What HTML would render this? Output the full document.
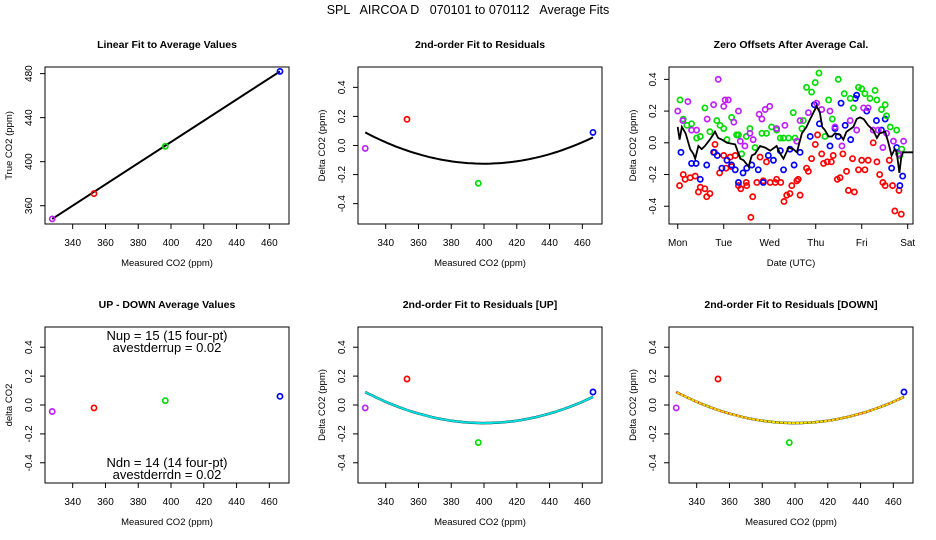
<!DOCTYPE html>
<html><head><meta charset="utf-8">
<style>
html,body{margin:0;padding:0;background:#fff;}
svg{display:block;font-family:"Liberation Sans",Arial,sans-serif;}
</style></head>
<body>
<svg id="chart" width="936" height="540" viewBox="0 0 936 540" xmlns="http://www.w3.org/2000/svg">
<rect width="936" height="540" fill="#fff"/>
<text x="468" y="14" text-anchor="middle" font-size="12.5" style="white-space:pre" xml:space="preserve">SPL   AIRCOA D   070101 to 070112   Average Fits</text>
</svg>
<script>
// ---- data ----
const gasColors = ["#c020ff","#ff0000","#00dd00","#0000ff"];
const measuredCO2 = [327.5, 353, 396.5, 466.5];
const trueCO2 = [348, 371, 414, 482];
const linFitStart = [327.5, 348];
const linFitEnd = [466.5, 482];
const residuals = [-0.02, 0.18, -0.26, 0.09];
const quadCoef = [4.09e-5, 400, -0.125]; // a, vertex x, vertex y
const upDownDiff = [-0.045, -0.02, 0.03, 0.06];
const co2Ticks = [340, 360, 380, 400, 420, 440, 460];
const trueTicks = [360, 400, 440, 480];
const resTicks = [-0.4, -0.2, 0.0, 0.2, 0.4];
const dayTicks = [0, 1, 2, 3, 4, 5];
const dayLabels = ["Mon","Tue","Wed","Thu","Fri","Sat"];

const zGreenDay = [.05,.12,.2,.3,.41,.49,.59,.7,.85,.92,1.0,1.07,1.17,1.28,1.32,1.39,1.49,1.57,1.68,1.83,1.93,2.04,2.15,2.23,2.3,2.41,2.51,2.55,2.7,2.73,2.8,2.91,2.99,3.07,3.2,3.28,3.36,3.49,3.62,3.75,3.82,3.93,4.0,4.07,4.18,4.29,4.33,4.43,4.51,4.54,4.62,4.76,4.83,4.87];
const zGreenVal = [.27,.15,.11,.12,.03,.04,.22,.07,.14,.11,.09,.02,.16,.05,.05,-.07,.04,.09,-.03,.06,.06,.1,.08,.03,.03,.03,.19,.03,.09,.14,.35,.32,.38,.44,.04,.27,.15,.4,.31,.28,.22,.35,.34,.31,.28,.33,.27,.21,.24,.17,.1,.08,-.08,-.04];
const zMagDay = [0,.11,.22,.3,.41,.64,.78,.88,1.0,1.03,1.1,1.22,1.32,1.36,1.46,1.57,1.64,1.77,1.83,1.9,2.0,2.15,2.33,2.59,2.66,2.84,3.02,3.13,3.31,3.42,3.57,3.75,3.89,4.04,4.14,4.25,4.36,4.46,4.54,4.69,4.8,4.91];
const zMagVal = [.2,.14,.26,.08,.08,.15,.24,.4,.23,.27,.27,.13,.2,.01,-.02,.06,.02,.18,.15,.21,.23,.09,.11,.01,.14,.19,.25,.21,.2,.1,-.02,.14,.08,.22,.22,.08,.08,-.03,.06,.01,-.07,.01];
const zBlueDay = [.07,.3,.4,.49,.63,.78,.86,.96,1.07,1.17,1.25,1.32,1.42,1.5,1.61,1.75,1.86,1.97,2.08,2.23,2.3,2.44,2.53,2.66,2.88,2.97,3.08,3.31,3.42,3.49,3.55,3.64,3.76,3.86,3.89,4.11,4.32,4.43,4.51,4.65,4.76,4.83,4.89];
const zBlueVal = [-.06,-.13,-.13,-.23,-.14,-.06,-.08,-.16,-.11,-.14,-.17,-.25,-.19,-.16,-.14,-.17,-.25,-.08,-.11,-.05,-.17,-.04,-.14,-.06,.04,.24,.12,-.02,.09,.04,.25,.11,.02,.28,.3,.2,.14,.08,.15,-.16,-.03,-.27,-.21];
const zRedDay = [.04,.12,.16,.27,.38,.45,.49,.59,.63,.7,.8,.81,.91,1.0,1.05,1.14,1.17,1.25,1.32,1.37,1.49,1.5,1.59,1.63,1.72,1.79,1.86,1.93,2.01,2.12,2.15,2.24,2.31,2.37,2.44,2.48,2.59,2.62,2.66,2.8,2.84,2.91,2.99,3.04,3.13,3.17,3.25,3.34,3.38,3.47,3.53,3.59,3.67,3.71,3.84,3.8,3.93,4.0,4.07,4.14,4.25,4.33,4.39,4.46,4.51,4.6,4.67,4.72,4.81,4.86];
const zRedVal = [-.27,-.2,-.23,-.22,-.21,-.31,-.28,-.29,-.34,-.32,-.06,-.01,-.19,-.08,-.16,-.09,-.15,-.08,-.27,-.29,-.25,-.27,-.47,-.34,-.25,-.09,-.24,-.12,-.25,-.25,-.23,-.25,-.37,-.33,-.32,-.27,-.24,-.23,-.33,-.16,-.18,-.1,-.01,.05,-.07,-.13,-.12,-.12,-.08,-.23,-.22,-.07,-.18,-.3,-.31,-.1,-.17,-.11,-.17,-.11,0,-.12,-.2,-.25,-.27,-.11,-.27,-.43,-.3,-.45];
const zMeanDay = [0,.04,.09,.17,.27,.34,.38,.45,.52,.59,.7,.81,.88,.96,1.07,1.25,1.36,1.43,1.54,1.61,1.68,1.79,1.9,2.01,2.15,2.23,2.3,2.41,2.51,2.59,2.7,2.8,2.88,2.95,3.02,3.09,3.14,3.2,3.28,3.35,3.42,3.53,3.6,3.67,3.82,3.89,3.96,4.04,4.14,4.25,4.33,4.39,4.51,4.58,4.65,4.72,4.76,4.82,4.86,4.9,5.12];
const zMeanVal = [.1,.02,.1,.06,-.04,-.07,-.1,-.02,-.04,-.02,.02,.07,.03,.02,0,-.01,-.1,-.11,-.15,-.08,-.07,-.02,-.03,-.05,-.02,-.07,-.1,-.03,-.04,-.06,.06,.1,.15,.19,.23,.19,.1,.08,.04,.04,.06,.05,.02,.07,.1,.15,.16,.15,.11,.08,.03,.06,.07,0,-.08,-.04,-.06,-.19,-.09,-.06,-.06];

// ---- helpers ----
const svg = document.getElementById('chart');
const NS = "http://www.w3.org/2000/svg";
function el(tag, attrs, parent){
  const e = document.createElementNS(NS, tag);
  for (const k in attrs) e.setAttribute(k, attrs[k]);
  (parent||svg).appendChild(e);
  return e;
}
function mkScale(d0,d1,r0,r1){ return v => r0 + (v-d0)/(d1-d0)*(r1-r0); }

function panel(cfg){
  const g = el('g', {});
  
  
  const sx = mkScale(cfg.xlim[0], cfg.xlim[1], cfg.l, cfg.r);
  const sy = mkScale(cfg.ylim[0], cfg.ylim[1], cfg.b, cfg.t);
  const box = el('rect', {x:cfg.l, y:cfg.t, width:cfg.r-cfg.l, height:cfg.b-cfg.t, fill:'none', stroke:'#000', 'stroke-width':1}, g);
  
  
  const t = el('text', {x:(cfg.l+cfg.r)/2, y:cfg.t-19, 'text-anchor':'middle', 'font-size':10.5, 'font-weight':'bold'}, g);
  t.textContent = cfg.title;
  
  
  const xl = el('text', {x:(cfg.l+cfg.r)/2, y:cfg.b+42, 'text-anchor':'middle', 'font-size':9.5}, g);
  xl.textContent = cfg.xlabel;
  
  
  const yx = cfg.l-33, yy=(cfg.t+cfg.b)/2;
  const yl = el('text', {x:yx, y:yy, 'text-anchor':'middle', 'font-size':9.5, transform:`rotate(-90 ${yx} ${yy})`}, g);
  yl.textContent = cfg.ylabel;
  
  
  const xa = cfg.b;
  cfg.xticks.forEach((v,i)=>{
    const x = sx(v);
    el('line', {x1:x, x2:x, y1:xa, y2:xa+5, stroke:'#000'}, g);
    const tl = el('text', {x:x, y:xa+22, 'text-anchor':'middle', 'font-size':10}, g);
    tl.textContent = cfg.xlabels ? cfg.xlabels[i] : v;
    
    
  });
  const ya = cfg.l;
  cfg.yticks.forEach(v=>{
    const y = sy(v);
    el('line', {x1:ya-5, x2:ya, y1:y, y2:y, stroke:'#000'}, g);
    const lx = ya-13;
    const tl = el('text', {x:lx, y:y, 'text-anchor':'middle', 'font-size':10, transform:`rotate(-90 ${lx} ${y})`}, g);
    tl.textContent = cfg.ydec!=null ? v.toFixed(cfg.ydec) : v;
    
    
  });
  return {g, sx, sy};
}
function pt(p, x, y, color){
  const c = el('circle', {cx:p.sx(x), cy:p.sy(y), r:2.6, fill:'none', stroke:color, 'stroke-width':1.7}, p.g);
  
  
}
function quad(x){ return quadCoef[0]*(x-quadCoef[1])*(x-quadCoef[1]) + quadCoef[2]; }
function curve(p, attrs, name){
  let d = '';
  for (let i=0;i<=60;i++){
    const x = measuredCO2[0] + (measuredCO2[3]-measuredCO2[0])*i/60;
    d += (i?'L':'M') + p.sx(x).toFixed(1) + ',' + p.sy(quad(x)).toFixed(1);
  }
  const a = Object.assign({d, fill:'none'}, attrs);
  const path = el('path', a, p.g);
  
  
}
const XL = [323.1, 472], RL = [-0.54, 0.54];

// Panel 1
const p1 = panel({name:'linear-fit-panel', title:'Linear Fit to Average Values', xlabel:'Measured CO2 (ppm)', ylabel:'True CO2 (ppm)',
  l:45, r:289, t:67, b:224, xlim:XL, ylim:[343.4,486], xticks:co2Ticks, yticks:trueTicks});
const lf = el('line', {x1:p1.sx(linFitStart[0]), y1:p1.sy(linFitStart[1]), x2:p1.sx(linFitEnd[0]), y2:p1.sy(linFitEnd[1]), stroke:'#000', 'stroke-width':2}, p1.g);


measuredCO2.forEach((x,i)=>pt(p1, x, trueCO2[i], gasColors[i]));

// Panel 2
const p2 = panel({name:'residual-fit-panel', title:'2nd-order Fit to Residuals', xlabel:'Measured CO2 (ppm)', ylabel:'Delta CO2 (ppm)',
  l:358, r:602, t:67, b:224, xlim:XL, ylim:RL, xticks:co2Ticks, yticks:resTicks, ydec:1});
curve(p2, {stroke:'#000', 'stroke-width':2}, 'quadratic-fit-curve');
measuredCO2.forEach((x,i)=>pt(p2, x, residuals[i], gasColors[i]));

// Panel 3
const p3 = panel({name:'zero-offsets-panel', title:'Zero Offsets After Average Cal.', xlabel:'Date (UTC)', ylabel:'Delta CO2 (ppm)',
  l:669, r:913, t:67, b:224, xlim:[-0.19,5.115], ylim:[-0.512,0.478], xticks:dayTicks, xlabels:dayLabels, yticks:resTicks, ydec:1});
[[zRedDay,zRedVal,gasColors[1]],[zBlueDay,zBlueVal,gasColors[3]],[zGreenDay,zGreenVal,gasColors[2]],[zMagDay,zMagVal,gasColors[0]]].forEach(s=>{
  s[0].forEach((d,i)=>pt(p3, d, s[1][i], s[2]));
});
{
  let d='';
  zMeanDay.forEach((x,i)=>{ d += (i?'L':'M') + Math.min(p3.sx(x),913).toFixed(1) + ',' + p3.sy(zMeanVal[i]).toFixed(1); });
  const m = el('path', {d, fill:'none', stroke:'#000', 'stroke-width':1.8}, p3.g);
  
  
}

// Panel 4
const p4 = panel({name:'up-down-panel', title:'UP - DOWN Average Values', xlabel:'Measured CO2 (ppm)', ylabel:'delta CO2',
  l:45, r:289, t:327, b:483, xlim:XL, ylim:RL, xticks:co2Ticks, yticks:resTicks, ydec:1});
measuredCO2.forEach((x,i)=>pt(p4, x, upDownDiff[i], gasColors[i]));
[['Nup = 15 (15 four-pt)',340,'n-up-label'],['avestderrup =  0.02',352,'stderr-up-label'],['Ndn = 14 (14 four-pt)',467,'n-down-label'],['avestderrdn =  0.02',479,'stderr-down-label']].forEach(a=>{
  const t = el('text', {x:167, y:a[1], 'text-anchor':'middle', 'font-size':13}, p4.g);
  t.textContent = a[0];
  
  
});

// Panel 5
const p5 = panel({name:'residual-fit-up-panel', title:'2nd-order Fit to Residuals [UP]', xlabel:'Measured CO2 (ppm)', ylabel:'Delta CO2 (ppm)',
  l:358, r:602, t:327, b:483, xlim:XL, ylim:RL, xticks:co2Ticks, yticks:resTicks, ydec:1});
curve(p5, {stroke:'#000', 'stroke-width':2.5}, 'quadratic-fit-curve');
curve(p5, {stroke:'#00e0e0', 'stroke-width':2}, 'up-fit-curve');
measuredCO2.forEach((x,i)=>pt(p5, x, residuals[i], gasColors[i]));

// Panel 6
const p6 = panel({name:'residual-fit-down-panel', title:'2nd-order Fit to Residuals [DOWN]', xlabel:'Measured CO2 (ppm)', ylabel:'Delta CO2 (ppm)',
  l:669, r:913, t:327, b:483, xlim:XL, ylim:RL, xticks:co2Ticks, yticks:resTicks, ydec:1});
curve(p6, {stroke:'#000', 'stroke-width':2.5}, 'quadratic-fit-curve');
curve(p6, {stroke:'#ffe000', 'stroke-width':2}, 'down-fit-curve');
curve(p6, {stroke:'#ff0000', 'stroke-width':1.2, 'stroke-dasharray':'1 3'}, 'down-fit-curve-dots');
measuredCO2.forEach((x,i)=>pt(p6, x, residuals[i], gasColors[i]));
</script>
</body></html>
